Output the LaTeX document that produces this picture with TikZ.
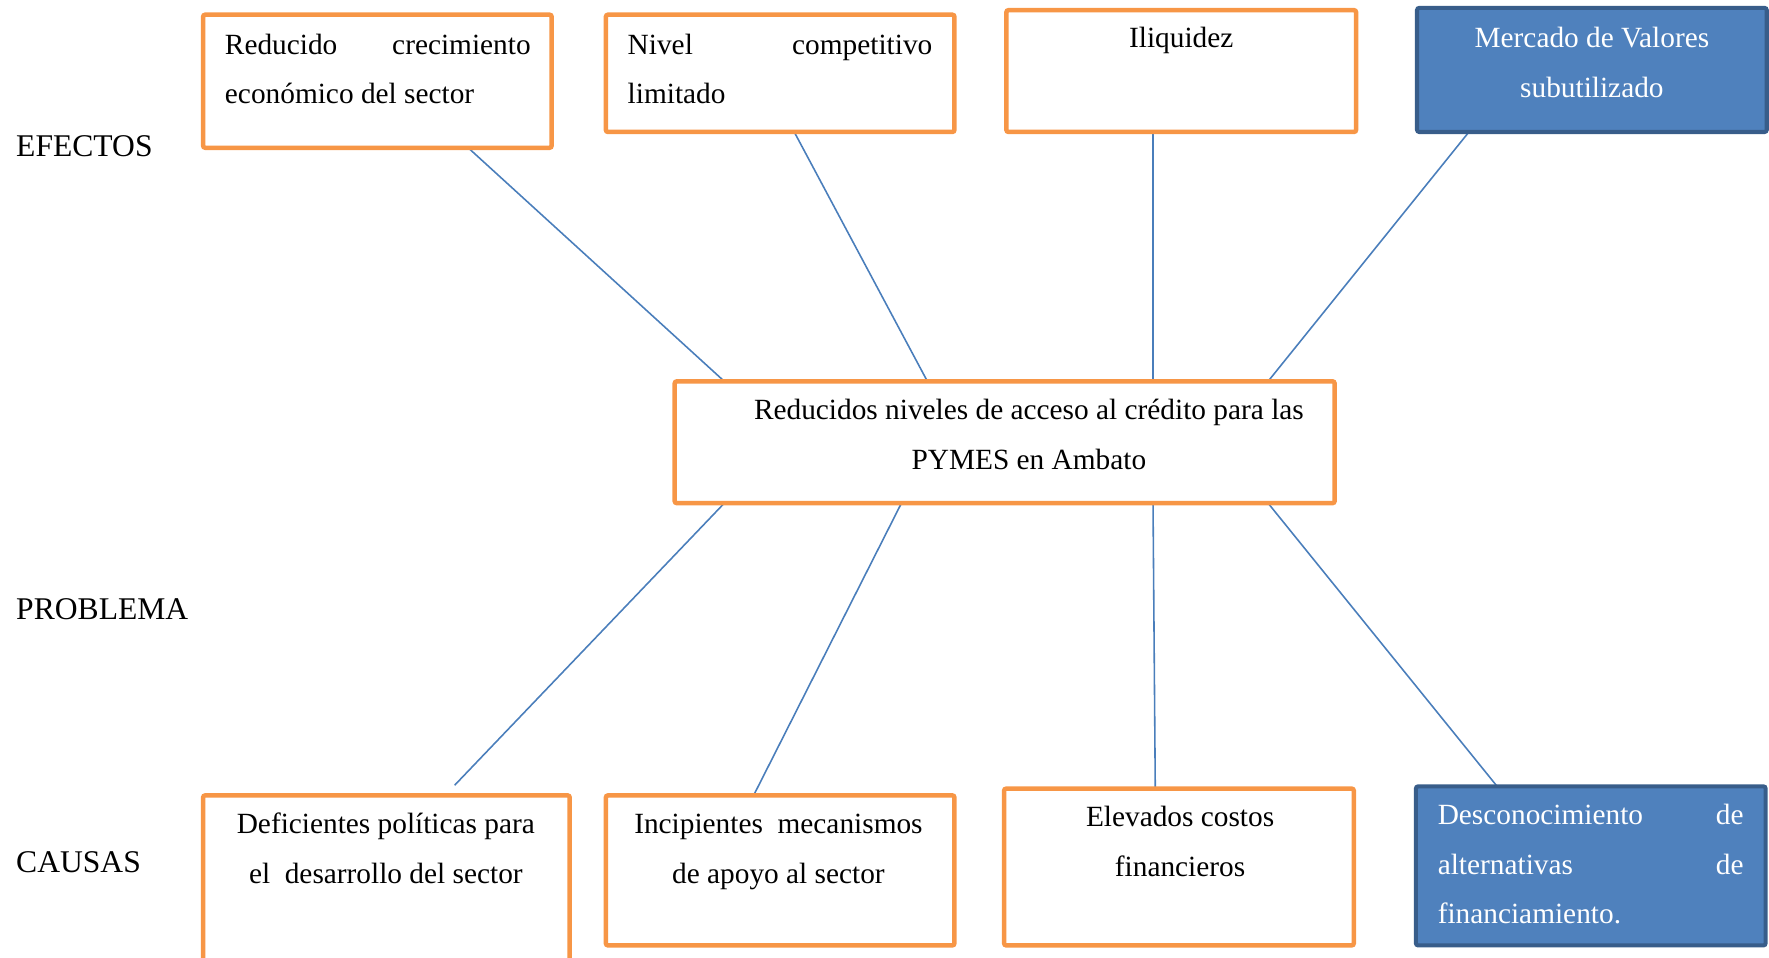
\documentclass[tikz,border=0pt]{standalone}
\usepackage{fontspec}
\setmainfont{Liberation Serif}
\usetikzlibrary{backgrounds}

\definecolor{boxorange}{HTML}{F79646}
\definecolor{boxblue}{HTML}{4F81BD}
\definecolor{boxblueedge}{HTML}{385D8A}
\definecolor{linkblue}{HTML}{4A7EBB}

\begin{document}
\begin{tikzpicture}[x=0.5pt, y=-0.5pt,
  sz/.style 2 args={minimum width=#1*0.5pt, minimum height=#2*0.5pt},
  basebox/.style={anchor=north west, inner sep=0pt, outer sep=0pt, rounded corners=1pt},
  obox/.style={basebox, draw=boxorange, line width=2pt, fill=white},
  bbox/.style={basebox, draw=boxblueedge, line width=1.8pt, fill=boxblue},
  txt/.style={inner sep=0pt, font=\fontsize{13}{22}\selectfont},
  ctxt/.style={txt, anchor=base, align=flush center, text width=300pt},
  jtxt/.style={txt, anchor=base west, align=flush left, text width=#1*0.5pt},
  lbl/.style={inner sep=0pt, anchor=base west, font=\fontsize{14}{16}\selectfont},
  link/.style={draw=linkblue, line width=0.7pt}]

\clip (0,0) rectangle (1568,849);

% row labels
\node[lbl] (efectos)  at (14,139) {EFECTOS};
\node[lbl] (problema) at (14,549) {PROBLEMA};
\node[lbl] (causas)   at (14,773) {CAUSAS};

% effects
\node[obox, sz={309}{118}] (t1) at (180,13) {};
\node[jtxt=271] (t1t) at (199,48) {Reducido\hfill crecimiento\\económico del sector};
\node[obox, sz={309}{104}] (t2) at (537,13) {};
\node[jtxt=270] (t2t) at (556,48) {Nivel\hfill competitivo\\limitado};
\node[obox, sz={310}{108}] (t3) at (892,9) {};
\node[ctxt] (t3t) at (1047,42) {Iliquidez};
\node[bbox, sz={310}{110}] (t4) at (1256,7) {};
\node[ctxt, text=white] (t4t) at (1411,42) {Mercado de Valores\\subutilizado};

% central problem
\node[obox, sz={585}{108}] (c) at (598,338) {};
\node[ctxt] (ct) at (912,372) {Reducidos niveles de acceso al crédito para las\\PYMES en Ambato};

% causes
\node[obox, sz={325}{170}] (b1) at (180,705) {};
\node[ctxt] (b1t) at (342,739) {Deficientes políticas para\\el\ \ desarrollo del sector};
\node[obox, sz={309}{133}] (b2) at (537,705) {};
\node[ctxt] (b2t) at (690,739) {Incipientes\ \ mecanismos\\de apoyo al sector};
\node[obox, sz={310}{139}] (b3) at (890,699) {};
\node[ctxt] (b3t) at (1046,733) {Elevados costos\\financieros};
\node[bbox, sz={310}{141}] (b4) at (1255,697) {};
\node[jtxt=271, text=white] (b4t) at (1274,731) {Desconocimiento\hfill de\\alternativas\hfill de\\financiamiento.};

\coordinate (e1) at (403,696);

% connectors, kept behind the boxes
\begin{scope}[on background layer]
  \draw[link] ([xshift=117.5pt]t1.south west) -- ([xshift=22pt]c.north west);
  \draw[link] ([xshift=83.5pt]t2.south west) -- ([xshift=112pt]c.north west);
  \draw[link] ([xshift=65pt]t3.south west) -- ([xshift=212pt]c.north west);
  \draw[link] ([xshift=23pt]t4.south west) -- ([xshift=263pt]c.north west);
  \draw[link] ([xshift=22pt]c.south west) -- (e1);
  \draw[link] ([xshift=100.5pt]c.south west) -- ([xshift=65.5pt]b2.north west);
  \draw[link] ([xshift=212pt]c.south west) -- ([xshift=67pt]b3.north west);
  \draw[link] ([xshift=263pt]c.south west) -- ([xshift=36pt]b4.north west);
\end{scope}
\end{tikzpicture}
\end{document}
